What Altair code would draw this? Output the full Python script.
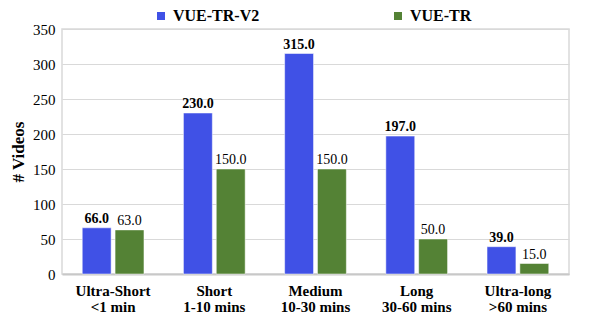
import altair as alt
import pandas as pd

categories = ["Ultra-Short\n<1 min", "Short\n1-10 mins", "Medium\n10-30 mins", "Long\n30-60 mins", "Ultra-long\n>60 mins"]
series_names = ["VUE-TR-V2", "VUE-TR"]
v2_values = [66.0, 230.0, 315.0, 197.0, 39.0]
tr_values = [63.0, 150.0, 150.0, 50.0, 15.0]
colors = ["#4051E6", "#548235"]

rows = []
for c, a, b in zip(categories, v2_values, tr_values):
    rows.append({"cat": c, "series": series_names[0], "value": a})
    rows.append({"cat": c, "series": series_names[1], "value": b})
df = pd.DataFrame(rows)

FONT = "Liberation Serif"

x = alt.X("cat:N", sort=categories, title=None,
          scale=alt.Scale(paddingInner=0.39, paddingOuter=0.2),
          axis=alt.Axis(labelExpr="split(datum.label, '\\n')", labelAngle=0,
                        labelFont=FONT, labelFontSize=15, labelFontWeight="bold",
                        labelColor="#000", labelPadding=9, labelLineHeight=16,
                        ticks=False, domainColor="#c8c8c8", domainWidth=2))
xo = alt.XOffset("series:N", sort=series_names, scale=alt.Scale(paddingInner=0.12))
y = alt.Y("value:Q", title="# Videos",
          scale=alt.Scale(domain=[0, 350]),
          axis=alt.Axis(values=list(range(0, 351, 50)), labelFont=FONT, labelFontSize=15,
                        labelColor="#000", titleFont=FONT, titleFontSize=17,
                        titleFontWeight="bold", titleColor="#000", titlePadding=5,
                        ticks=False, domain=False, gridColor="#d9d9d9", labelPadding=7))

base = alt.Chart(df).encode(x=x, xOffset=xo, y=y)

bars = base.mark_bar(stroke="#ffffff", strokeWidth=0.5).encode(
    color=alt.Color("series:N", sort=series_names,
                    scale=alt.Scale(domain=series_names, range=colors),
                    legend=alt.Legend(title=None, orient="none", direction="horizontal",
                                      legendX=91, legendY=-21, symbolType="square",
                                      symbolSize=64, symbolStrokeWidth=0,
                                      labelFont=FONT, labelFontSize=16,
                                      labelFontWeight="bold", labelColor="#000",
                                      columnPadding=130, labelOffset=4, padding=0))
)

lab_v2 = base.transform_filter(alt.datum.series == series_names[0]).mark_text(
    dy=-9, font=FONT, fontSize=14, fontWeight="bold", color="#000"
).encode(text=alt.Text("value:Q", format=".1f"))
lab_tr = base.transform_filter(alt.datum.series == series_names[1]).mark_text(
    dy=-9, font=FONT, fontSize=14, color="#000"
).encode(text=alt.Text("value:Q", format=".1f"))

chart = alt.layer(bars, lab_v2, lab_tr).properties(
    width=507, height=245,
    autosize=alt.AutoSizeParams(type="none"),
    padding={"left": 54, "top": 21, "right": 21, "bottom": 47},
).configure(
    background="#ffffff", font=FONT,
    view=alt.ViewConfig(stroke="#d9d9d9", strokeWidth=1.5),
    axis=alt.AxisConfig(labelFont=FONT, titleFont=FONT),
    legend=alt.LegendConfig(labelFont=FONT, titleFont=FONT),
    text=alt.MarkConfig(font=FONT),
)

chart.save("out.html", embed_options={"renderer": "svg", "actions": False})
